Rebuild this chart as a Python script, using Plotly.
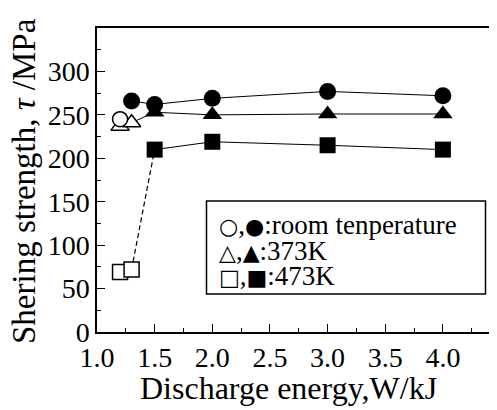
import plotly.graph_objects as go

# ---- data ----
x_rt_open = [1.2]
y_rt_open = [245]
x_rt = [1.3, 1.5, 2.0, 3.0, 4.0]
y_rt = [266, 262, 269, 277, 272]

x_373_open = [1.2, 1.3]
y_373_open = [237, 241]
x_373 = [1.5, 2.0, 3.0, 4.0]
y_373 = [253, 250, 251, 251]

x_473_open = [1.2, 1.3]
y_473_open = [69, 72]
x_473 = [1.5, 2.0, 3.0, 4.0]
y_473 = [210, 219, 215, 210]

x_ticks = [1.0, 1.5, 2.0, 2.5, 3.0, 3.5, 4.0]
x_minor = [1.25, 1.75, 2.25, 2.75, 3.25, 3.75, 4.25]
y_ticks = [0, 50, 100, 150, 200, 250, 300]
y_minor = [25, 75, 125, 175, 225, 275, 325]

x_title = "Discharge energy,W/kJ"
y_title = "Shering strength, <i>τ</i> /MPa"
legend_symbols = [("○", "●"), ("△", "▲"), ("□", "■")]
legend_labels = [":room tenperature", ":373K", ":473K"]

FONT = "Liberation Serif, Times New Roman, serif"
SYM = "DejaVu Sans"
OFF = 8  # default page body margin
W, H = 497 - OFF, 410 - OFF
L, T, R = 97 - OFF, 28 - OFF, 0
ph = 304
B = H - T - ph
pw = W - L - R
x_lo = 1.0
x_hi = 1.0 + pw / 115.3

fig = go.Figure()

# connecting lines (open -> filled)
fig.add_trace(go.Scatter(x=[x_373_open[-1], x_373[0]], y=[y_373_open[-1], y_373[0]],
                         mode="lines", line=dict(color="black", width=1)))
fig.add_trace(go.Scatter(x=[x_473_open[-1], x_473[0]], y=[y_473_open[-1], y_473[0]],
                         mode="lines", line=dict(color="black", width=1.2, dash="5px,3px")))

mk_line = dict(color="black", width=1.5)
# open markers
fig.add_trace(go.Scatter(x=x_373_open, y=y_373_open, mode="markers",
                         marker=dict(symbol="triangle-up", size=16, color="white", line=mk_line)))
fig.add_trace(go.Scatter(x=x_rt_open, y=y_rt_open, mode="markers",
                         marker=dict(symbol="circle", size=15, color="white", line=mk_line)))
fig.add_trace(go.Scatter(x=x_473_open, y=y_473_open, mode="markers",
                         marker=dict(symbol="square", size=15, color="white", line=mk_line)))

# filled series
fig.add_trace(go.Scatter(x=x_473, y=y_473, mode="lines+markers",
                         line=dict(color="black", width=1),
                         marker=dict(symbol="square", size=16, color="black")))
fig.add_trace(go.Scatter(x=x_373, y=y_373, mode="lines+markers",
                         line=dict(color="black", width=1),
                         marker=dict(symbol="triangle-up", size=17, color="black")))
fig.add_trace(go.Scatter(x=x_rt, y=y_rt, mode="lines+markers",
                         line=dict(color="black", width=1),
                         marker=dict(symbol="circle", size=17, color="black")))

def px2paper(px, py):
    # px, py are page pixel positions
    return (px - OFF - L) / pw, (H - B - (py - OFF)) / ph

# legend box
x0, y0 = px2paper(206.5, 294)
x1, y1 = px2paper(485.5, 201)
fig.add_shape(type="rect", xref="paper", yref="paper", x0=x0, y0=y0, x1=x1, y1=y1,
              line=dict(color="black", width=1.5), fillcolor="white", layer="above")
for (s_open, s_fill), lab, py in zip(legend_symbols, legend_labels, [225, 251, 276]):
    ax, ay = px2paper(217, py)
    txt = (f'<span style="font-family:{SYM};font-size:22px">{s_open}</span>,'
           f'<span style="font-family:{SYM};font-size:22px">{s_fill}</span>{lab}')
    fig.add_annotation(xref="paper", yref="paper", x=ax, y=ay, text=txt, showarrow=False,
                       xanchor="left", yanchor="middle",
                       font=dict(family=FONT, size=27, color="black"))

# axis titles
tx, ty = px2paper(288, 388)
fig.add_annotation(xref="paper", yref="paper", x=tx, y=ty, text=x_title, showarrow=False,
                   xanchor="center", yanchor="middle",
                   font=dict(family=FONT, size=32, color="black"))
tx, ty = px2paper(24, 181)
fig.add_annotation(xref="paper", yref="paper", x=tx, y=ty, text=y_title, showarrow=False,
                   textangle=-90, xanchor="center", yanchor="middle",
                   font=dict(family=FONT, size=33, color="black"))

fig.update_layout(
    width=W, height=H,
    margin=dict(l=L, r=R, t=T, b=B),
    paper_bgcolor="white", plot_bgcolor="white",
    showlegend=False,
    font=dict(family=FONT, size=28, color="black"),
)
fig.update_xaxes(
    range=[x_lo, x_hi], showgrid=False, zeroline=False,
    showline=True, linecolor="black", linewidth=1.5, mirror=True,
    ticks="inside", ticklen=8, tickwidth=1.2, tickcolor="black",
    tickvals=x_ticks, ticktext=[f"{v:.1f}" for v in x_ticks],
    tickfont=dict(family=FONT, size=28),
    minor=dict(tickvals=x_minor, ticks="inside", ticklen=4, tickwidth=1.2, tickcolor="black"),
)
fig.update_yaxes(
    range=[0, 350], showgrid=False, zeroline=False,
    showline=True, linecolor="black", linewidth=1.5, mirror=False,
    ticks="inside", ticklen=8, tickwidth=1.2, tickcolor="black",
    tickvals=y_ticks, tickfont=dict(family=FONT, size=28),
    minor=dict(tickvals=y_minor, ticks="inside", ticklen=4, tickwidth=1.2, tickcolor="black"),
)

fig.write_html("out.html")
